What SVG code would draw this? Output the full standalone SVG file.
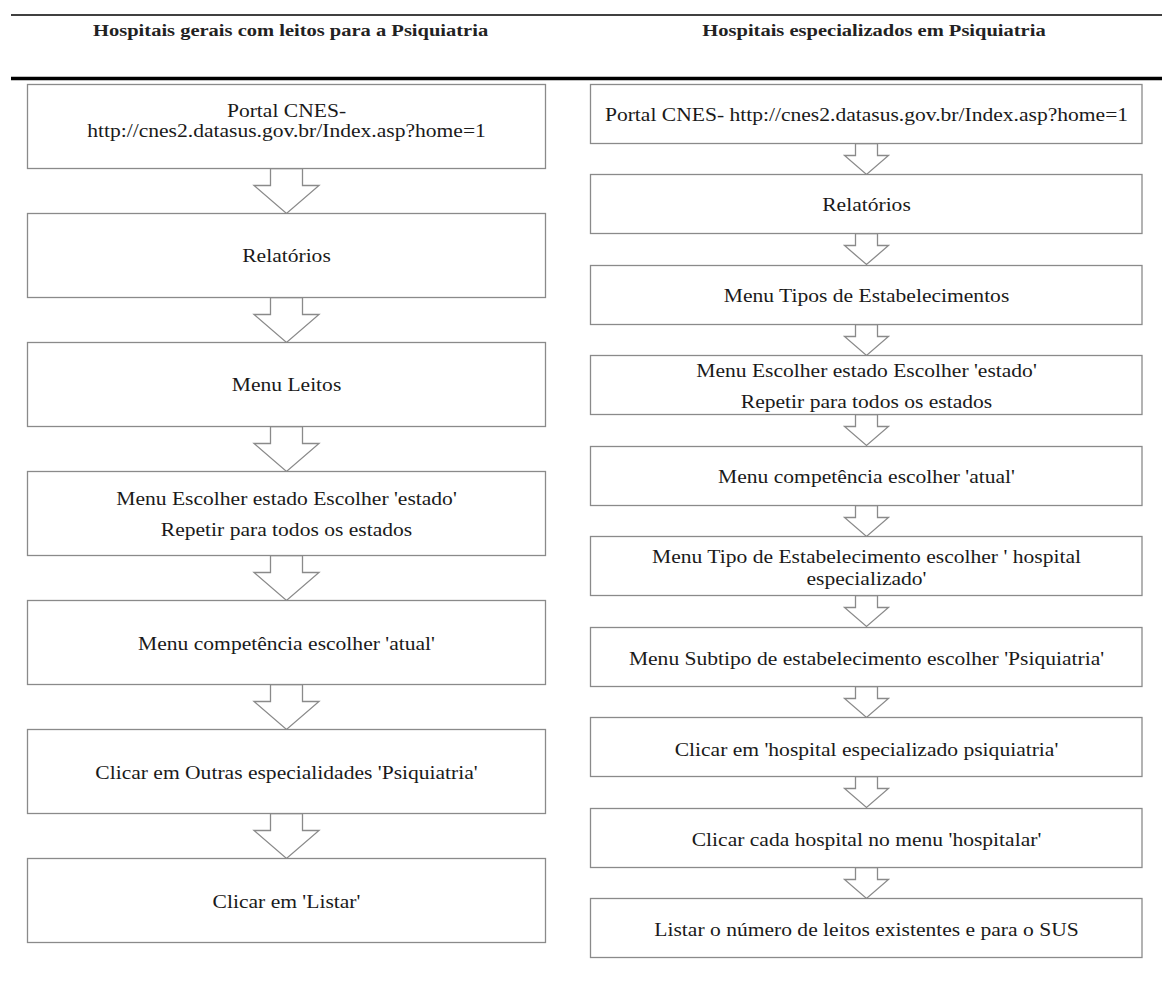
<svg xmlns="http://www.w3.org/2000/svg" xmlns:xlink="http://www.w3.org/1999/xlink" width="1162" height="998" viewBox="0 0 1162 998">
<style>
.box{fill:#fff;stroke:#8a8a8a;stroke-width:1.3}
.arr{fill:#fff;stroke:#8a8a8a;stroke-width:1.3;stroke-linejoin:miter}
.t{font-family:"Liberation Serif","Times New Roman",serif;font-size:19.5px;fill:#1a1a1a;text-anchor:middle}
.h{font-family:"Liberation Serif","Times New Roman",serif;font-size:17px;font-weight:bold;fill:#222;text-anchor:middle}
.rule{stroke:#000;fill:none}
</style>
<defs>
<path id="arrL" d="M-16,0 V17 H-32.5 L0,45 L32.5,17 H16 V0 Z"/>
<path id="arrR" d="M-11,0 V12 H-22 L0,31 L22,12 H11 V0 Z"/>
</defs>
<rect width="1162" height="998" fill="#fff"/>
<g id="header">
<line class="rule" x1="11" y1="15" x2="1162" y2="15" stroke-width="1.5"/>
<line class="rule" x1="11" y1="78.5" x2="1162" y2="78.5" stroke-width="3.5"/>
<text class="h" transform="matrix(1.206 0 0 1 290.6 36)">Hospitais gerais com leitos para a Psiquiatria</text>
<text class="h" transform="matrix(1.206 0 0 1 874 36)">Hospitais especializados em Psiquiatria</text>
</g>
<g id="connectors">
<use xlink:href="#arrL" href="#arrL" class="arr" x="286.5" y="168.5"/>
<use xlink:href="#arrL" href="#arrL" class="arr" x="286.5" y="297.5"/>
<use xlink:href="#arrL" href="#arrL" class="arr" x="286.5" y="426.5"/>
<use xlink:href="#arrL" href="#arrL" class="arr" x="286.5" y="555.5"/>
<use xlink:href="#arrL" href="#arrL" class="arr" x="286.5" y="684.5"/>
<use xlink:href="#arrL" href="#arrL" class="arr" x="286.5" y="813.5"/>
<use xlink:href="#arrR" href="#arrR" class="arr" x="866.5" y="143.5"/>
<use xlink:href="#arrR" href="#arrR" class="arr" x="866.5" y="233.5"/>
<use xlink:href="#arrR" href="#arrR" class="arr" x="866.5" y="324.5"/>
<use xlink:href="#arrR" href="#arrR" class="arr" x="866.5" y="414.5"/>
<use xlink:href="#arrR" href="#arrR" class="arr" x="866.5" y="505.5"/>
<use xlink:href="#arrR" href="#arrR" class="arr" x="866.5" y="595.5"/>
<use xlink:href="#arrR" href="#arrR" class="arr" x="866.5" y="686.5"/>
<use xlink:href="#arrR" href="#arrR" class="arr" x="866.5" y="776.5"/>
<use xlink:href="#arrR" href="#arrR" class="arr" x="866.5" y="867.5"/>
</g>
<g id="L1"><rect class="box" x="27.5" y="84.5" width="518" height="84"/><text class="t" transform="matrix(1.106 0 0 1 286.5 117)">Portal CNES-</text><text class="t" transform="matrix(1.106 0 0 1 286.5 136.5)">http://cnes2.datasus.gov.br/Index.asp?home=1</text></g>
<g id="L2"><rect class="box" x="27.5" y="213.5" width="518" height="84"/><text class="t" transform="matrix(1.106 0 0 1 286.5 262)">Relatórios</text></g>
<g id="L3"><rect class="box" x="27.5" y="342.5" width="518" height="84"/><text class="t" transform="matrix(1.106 0 0 1 286.5 391)">Menu Leitos</text></g>
<g id="L4"><rect class="box" x="27.5" y="471.5" width="518" height="84"/><text class="t" transform="matrix(1.106 0 0 1 286.5 504.5)">Menu Escolher estado Escolher 'estado'</text><text class="t" transform="matrix(1.106 0 0 1 286.5 535.5)">Repetir para todos os estados</text></g>
<g id="L5"><rect class="box" x="27.5" y="600.5" width="518" height="84"/><text class="t" transform="matrix(1.106 0 0 1 286.5 650)">Menu competência escolher 'atual'</text></g>
<g id="L6"><rect class="box" x="27.5" y="729.5" width="518" height="84"/><text class="t" transform="matrix(1.106 0 0 1 286.5 779)">Clicar em Outras especialidades 'Psiquiatria'</text></g>
<g id="L7"><rect class="box" x="27.5" y="858.5" width="518" height="84"/><text class="t" transform="matrix(1.106 0 0 1 286.5 907.5)">Clicar em 'Listar'</text></g>
<g id="R1"><rect class="box" x="590.5" y="84.5" width="551.5" height="59"/><text class="t" transform="matrix(1.106 0 0 1 866.5 121)">Portal CNES- http://cnes2.datasus.gov.br/Index.asp?home=1</text></g>
<g id="R2"><rect class="box" x="590.5" y="174.5" width="551.5" height="59"/><text class="t" transform="matrix(1.106 0 0 1 866.5 211)">Relatórios</text></g>
<g id="R3"><rect class="box" x="590.5" y="265.5" width="551.5" height="59"/><text class="t" transform="matrix(1.106 0 0 1 866.5 302)">Menu Tipos de Estabelecimentos</text></g>
<g id="R4"><rect class="box" x="590.5" y="355.5" width="551.5" height="59"/><text class="t" transform="matrix(1.106 0 0 1 866.5 377)">Menu Escolher estado Escolher 'estado'</text><text class="t" transform="matrix(1.106 0 0 1 866.5 407.5)">Repetir para todos os estados</text></g>
<g id="R5"><rect class="box" x="590.5" y="446.5" width="551.5" height="59"/><text class="t" transform="matrix(1.106 0 0 1 866.5 483)">Menu competência escolher 'atual'</text></g>
<g id="R6"><rect class="box" x="590.5" y="536.5" width="551.5" height="59"/><text class="t" transform="matrix(1.106 0 0 1 866.5 563)">Menu Tipo de Estabelecimento escolher ' hospital</text><text class="t" transform="matrix(1.106 0 0 1 866.5 584.5)">especializado'</text></g>
<g id="R7"><rect class="box" x="590.5" y="627.5" width="551.5" height="59"/><text class="t" transform="matrix(1.106 0 0 1 866.5 664.5)">Menu Subtipo de estabelecimento escolher 'Psiquiatria'</text></g>
<g id="R8"><rect class="box" x="590.5" y="717.5" width="551.5" height="59"/><text class="t" transform="matrix(1.106 0 0 1 866.5 755.5)">Clicar em 'hospital especializado psiquiatria'</text></g>
<g id="R9"><rect class="box" x="590.5" y="808.5" width="551.5" height="59"/><text class="t" transform="matrix(1.106 0 0 1 866.5 845.5)">Clicar cada hospital no menu 'hospitalar'</text></g>
<g id="R10"><rect class="box" x="590.5" y="898.5" width="551.5" height="59"/><text class="t" transform="matrix(1.106 0 0 1 866.5 935.5)">Listar o número de leitos existentes e para o SUS</text></g>
</svg>
